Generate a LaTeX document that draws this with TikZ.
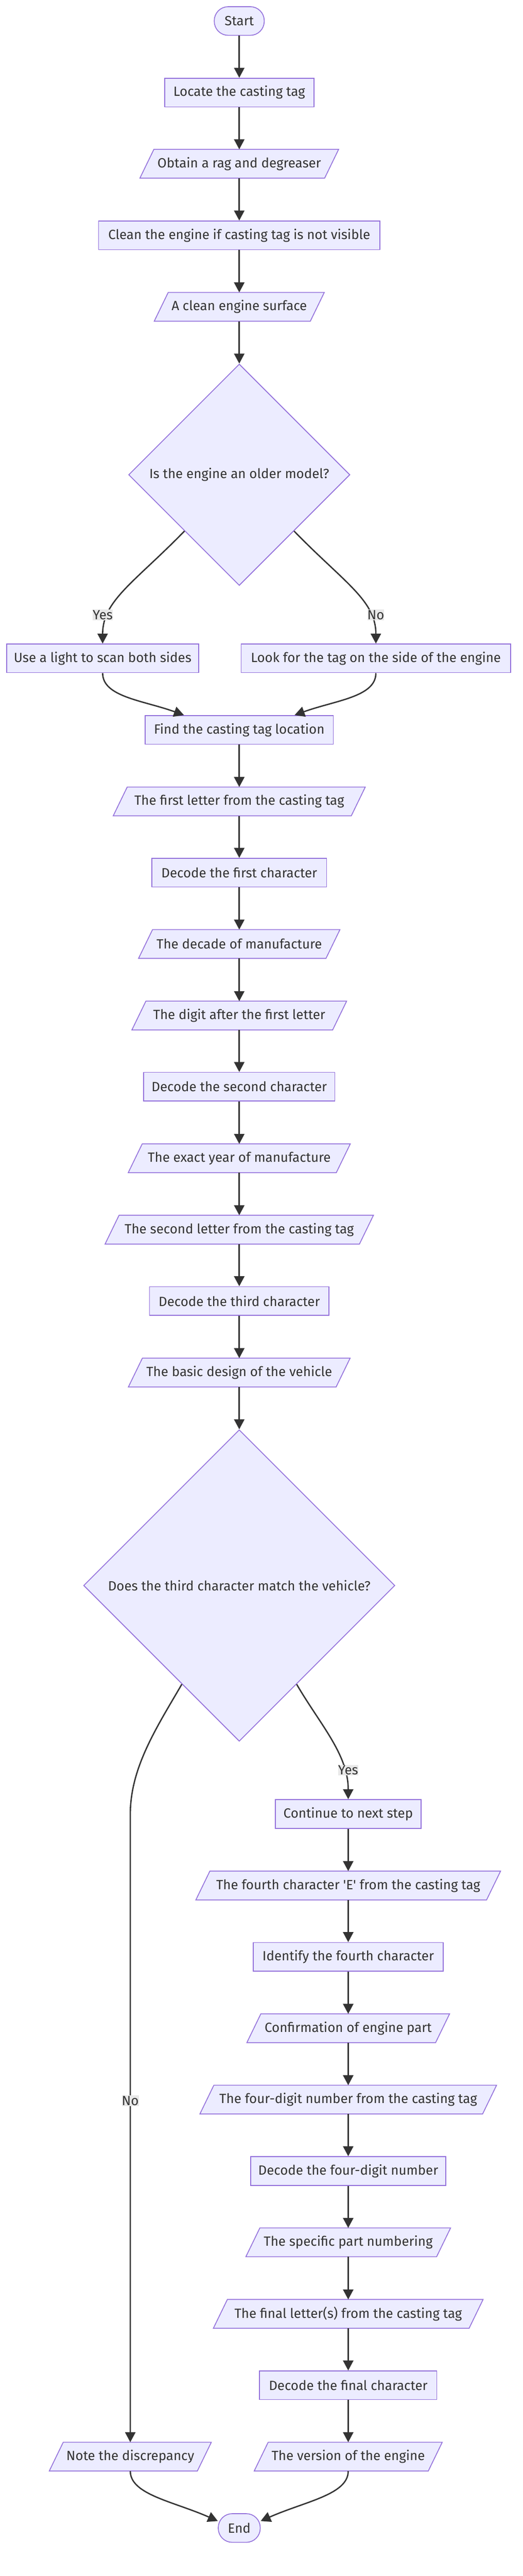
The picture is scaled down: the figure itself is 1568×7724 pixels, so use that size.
\documentclass[tikz,border=0pt]{standalone}
\usepackage{fontspec}
\newfontfamily\chartfont{Fira Sans}
\usetikzlibrary{shapes.geometric,arrows.meta,backgrounds}
\definecolor{boxfill}{HTML}{ECECFF}
\definecolor{boxline}{HTML}{9370DB}
\definecolor{edgeink}{HTML}{333333}
\definecolor{labelbg}{HTML}{E8E8E8}
\tikzset{
  chart/.style={text=edgeink, font=\chartfont\fontsize{40}{48}\selectfont},
  box/.style={chart, draw=boxline, fill=boxfill, line width=2.5pt, minimum height=86pt, inner sep=0pt},
  pill/.style={box, rounded corners=42pt},
  lean/.style={chart, minimum height=86pt, inner sep=0pt},
  leanframe/.style={draw=boxline, fill=boxfill, line width=2.5pt},
  choice/.style={chart, diamond, aspect=1, draw=boxline, fill=boxfill, line width=2.5pt, inner sep=0pt},
  flow/.style={draw=edgeink, line width=4pt, -{Triangle[length=30pt,width=31pt]}},
  lbl/.style={chart, fill=labelbg, inner xsep=0pt, inner ysep=2pt},
}
\begin{document}
\begin{tikzpicture}[x=1pt,y=-1pt]
  \useasboundingbox (0,0) rectangle (1568,7724);
  %% locating the tag
  \node[pill, minimum width=150pt] (start) at (718,63) {Start};
  \node[box, minimum width=448pt] (locate) at (718,277.5) {Locate the casting tag};
  \node[lean, minimum width=554pt] (obtain) at (718,491) {Obtain a rag and degreaser};
  \node[box, minimum width=844pt] (clean) at (718,705.5) {Clean the engine if casting tag is not visible};
  \node[lean, minimum width=468pt] (surface) at (718,920) {A clean engine surface};
  \node[choice, minimum width=664pt, minimum height=664pt] (older) at (718,1423.5) {Is the engine an older model?};
  \node[box, minimum width=576pt] (light) at (308,1974) {Use a light to scan both sides};
  \node[box, minimum width=808pt] (side) at (1128,1974) {Look for the tag on the side of the engine};
  \node[box, minimum width=564pt] (find) at (718,2188.5) {Find the casting tag location};
  %% first three characters
  \node[lean, minimum width=714pt] (firstl) at (718,2403) {The first letter from the casting tag};
  \node[box, minimum width=524pt] (decone) at (718,2616.5) {Decode the first character};
  \node[lean, minimum width=562pt] (decade) at (718,2830.5) {The decade of manufacture};
  \node[lean, minimum width=602pt] (digit) at (718,3045) {The digit after the first letter};
  \node[box, minimum width=574pt] (dectwo) at (718,3258.5) {Decode the second character};
  \node[lean, minimum width=624pt] (year) at (718,3473) {The exact year of manufacture};
  \node[lean, minimum width=763pt] (secondl) at (718,3687) {The second letter from the casting tag};
  \node[box, minimum width=538pt] (decthree) at (718,3901) {Decode the third character};
  \node[lean, minimum width=623pt] (design) at (718,4115.5) {The basic design of the vehicle};
  \node[choice, minimum width=934pt, minimum height=934pt] (match) at (718,4754) {Does the third character match the vehicle?};
  %% remaining characters
  \node[box, minimum width=438pt] (cont) at (1045,5439) {Continue to next step};
  \node[lean, minimum width=872pt] (fourthl) at (1045,5653.5) {The fourth character 'E' from the casting tag};
  \node[box, minimum width=570pt] (ident) at (1045,5867.5) {Identify the fourth character};
  \node[lean, minimum width=566pt] (confirm) at (1045,6081.5) {Confirmation of engine part};
  \node[lean, minimum width=848pt] (fournum) at (1045,6295.5) {The four-digit number from the casting tag};
  \node[box, minimum width=586pt] (decfour) at (1045,6509.5) {Decode the four-digit number};
  \node[lean, minimum width=572pt] (partno) at (1045,6723.5) {The specific part numbering};
  \node[lean, minimum width=767pt] (finall) at (1045,6938) {The final letter(s) from the casting tag};
  \node[box, minimum width=532pt] (decfinal) at (1045,7152) {Decode the final character};
  \node[lean, minimum width=522pt] (version) at (1045,7366) {The version of the engine};
  \node[lean, minimum width=444pt] (note) at (391,7366) {Note the discrepancy};
  \node[pill, minimum width=126pt] (theend) at (718,7580) {End};
  %% parallelogram frames
  \begin{scope}[on background layer]
    \foreach \n in {obtain,surface,firstl,decade,digit,year,secondl,design,fourthl,confirm,fournum,partno,finall,version,note}
      \draw[leanframe] ([xshift=-21pt]\n.south west) -- ([xshift=-21pt]\n.south east)
        -- ([xshift=21pt]\n.north east) -- ([xshift=21pt]\n.north west) -- cycle;
  \end{scope}
  %% straight steps
  \foreach \a/\b in {start/locate,locate/obtain,obtain/clean,clean/surface,surface/older,
      find/firstl,firstl/decone,decone/decade,decade/digit,digit/dectwo,dectwo/year,
      year/secondl,secondl/decthree,decthree/design,design/match,
      cont/fourthl,fourthl/ident,ident/confirm,confirm/fournum,fournum/decfour,
      decfour/partno,partno/finall,finall/decfinal,decfinal/version}
    \draw[flow] (\a) -- (\b);
  %% branches
  \draw[flow] (older) .. controls (404,1746) and (308,1800) .. (light) node[lbl,pos=.75,xshift=-17pt] {Yes};
  \draw[flow] (older) .. controls (1032,1746) and (1128,1800) .. (side) node[lbl,pos=.75,xshift=17pt] {No};
  \draw[flow] (light) .. controls (308,2090) and (430,2100) .. ([xshift=-166pt]find.north);
  \draw[flow] (side) .. controls (1128,2090) and (1006,2100) .. ([xshift=166pt]find.north);
  \draw[flow] (match) .. controls (960,5170) and (1045,5260) .. (cont) node[lbl,pos=.77,xshift=12pt] {Yes};
  \draw[flow] (match) .. controls (470,5180) and (391,5300) .. (391,5440) -- (note) node[lbl,pos=.456] {No};
  \draw[flow] (note) .. controls (391,7480) and (520,7500) .. (theend.162);
  \draw[flow] (version) .. controls (1045,7480) and (916,7500) .. (theend.18);
\end{tikzpicture}
\end{document}
